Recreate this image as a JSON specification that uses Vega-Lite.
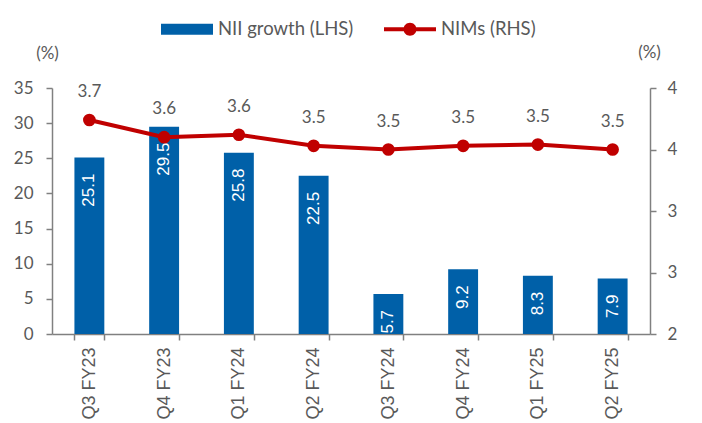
{
  "$schema": "https://vega.github.io/schema/vega-lite/v6.json",
  "width": 598,
  "height": 246,
  "autosize": {"type": "none"},
  "padding": {"left": 52, "top": 88, "right": 52, "bottom": 89},
  "background": "white",
  "config": {
    "view": {"stroke": null},
    "axis": {
      "grid": false,
      "domainColor": "#808080",
      "tickColor": "#808080",
      "domainWidth": 1.5,
      "tickWidth": 1.5,
      "labelColor": "#595959",
      "titleColor": "#595959",
      "labelFont": "Lato",
      "titleFont": "Lato",
      "labelFontSize": 17,
      "titleFontSize": 17,
      "titleFontWeight": "normal"
    }
  },
  "data": {
    "values": [
      {"quarter": "Q3 FY23", "nii": 25.1, "nim": 3.74},
      {"quarter": "Q4 FY23", "nii": 29.5, "nim": 3.60},
      {"quarter": "Q1 FY24", "nii": 25.8, "nim": 3.62},
      {"quarter": "Q2 FY24", "nii": 22.5, "nim": 3.53},
      {"quarter": "Q3 FY24", "nii": 5.7, "nim": 3.50},
      {"quarter": "Q4 FY24", "nii": 9.2, "nim": 3.53},
      {"quarter": "Q1 FY25", "nii": 8.3, "nim": 3.54},
      {"quarter": "Q2 FY25", "nii": 7.9, "nim": 3.50}
    ]
  },
  "encoding": {
    "x": {
      "field": "quarter",
      "type": "nominal",
      "sort": null,
      "scale": {"paddingInner": 0.6, "paddingOuter": 0.3},
      "axis": {
        "title": null,
        "labelAngle": -90,
        "labelFont": "Liberation Sans",
        "labelFontSize": 18,
        "tickBand": "extent",
        "tickSize": 6,
        "labelPadding": 7
      }
    }
  },
  "layer": [
    {
      "encoding": {
        "y": {
          "field": "nii",
          "type": "quantitative",
          "scale": {"domain": [0, 35]},
          "axis": {
            "values": [0, 5, 10, 15, 20, 25, 30, 35],
            "title": "(%)",
            "titleAngle": 0,
            "titleX": -5,
            "titleY": -35,
            "titleAlign": "center",
            "titleBaseline": "middle",
            "tickSize": 6,
            "labelPadding": 13
          }
        }
      },
      "layer": [
        {
          "mark": {"type": "bar"},
          "encoding": {
            "color": {
              "datum": "NII growth (LHS)",
              "scale": {
                "domain": ["NII growth (LHS)", "NIMs (RHS)"],
                "range": ["#0060A8", "#C00000"]
              },
              "legend": {
                "orient": "none",
                "legendX": 109,
                "legendY": -85,
                "direction": "horizontal",
                "title": null,
                "symbolSize": 2704,
                "labelFont": "Lato",
                "labelFontSize": 18.5,
                "labelColor": "#595959",
                "labelOffset": 5,
                "columnPadding": 30,
                "padding": 0,
                "encode": {
                  "symbols": {
                    "update": {
                      "shape": {"signal": "datum.value == 'NIMs (RHS)' ? 'M-1,-0.077H1V0.077H-1Z M0.25,0A0.25,0.25,0,1,1,-0.25,0A0.25,0.25,0,1,1,0.25,0Z' : 'M-1,-0.21H1V0.21H-1Z'"},
                      "fill": {"signal": "datum.value == 'NIMs (RHS)' ? '#C00000' : '#0060A8'"},
                      "stroke": {"value": "transparent"},
                      "strokeWidth": {"value": 0},
                      "opacity": {"value": 1},
                      "fillOpacity": {"value": 1}
                    }
                  }
                }
              }
            }
          }
        },
        {
          "mark": {
            "type": "text",
            "angle": 270,
            "align": "right",
            "baseline": "middle",
            "dx": -16,
            "color": "white",
            "font": "Liberation Sans",
            "fontSize": 17
          },
          "encoding": {
            "text": {"field": "nii", "type": "quantitative", "format": ".1f"}
          }
        }
      ]
    },
    {
      "encoding": {
        "y": {
          "field": "nim",
          "type": "quantitative",
          "scale": {"domain": [2, 4]},
          "axis": {
            "orient": "right",
            "values": [2, 2.5, 3, 3.5, 4],
            "format": ".0f",
            "title": "(%)",
            "titleAngle": 0,
            "titleX": -1,
            "titleY": -36,
            "titleAlign": "center",
            "titleBaseline": "middle",
            "tickSize": 6,
            "labelPadding": 11
          }
        }
      },
      "layer": [
        {
          "mark": {
            "type": "line",
            "strokeWidth": 4,
            "point": {"filled": true, "size": 160, "opacity": 1}
          },
          "encoding": {
            "color": {"datum": "NIMs (RHS)"}
          }
        },
        {
          "mark": {
            "type": "text",
            "dy": -28,
            "baseline": "middle",
            "align": "center",
            "font": "Lato",
            "fontSize": 17,
            "color": "#595959"
          },
          "encoding": {
            "text": {"field": "nim", "type": "quantitative", "format": ".1f"}
          }
        }
      ]
    }
  ],
  "resolve": {"scale": {"y": "independent"}}
}
